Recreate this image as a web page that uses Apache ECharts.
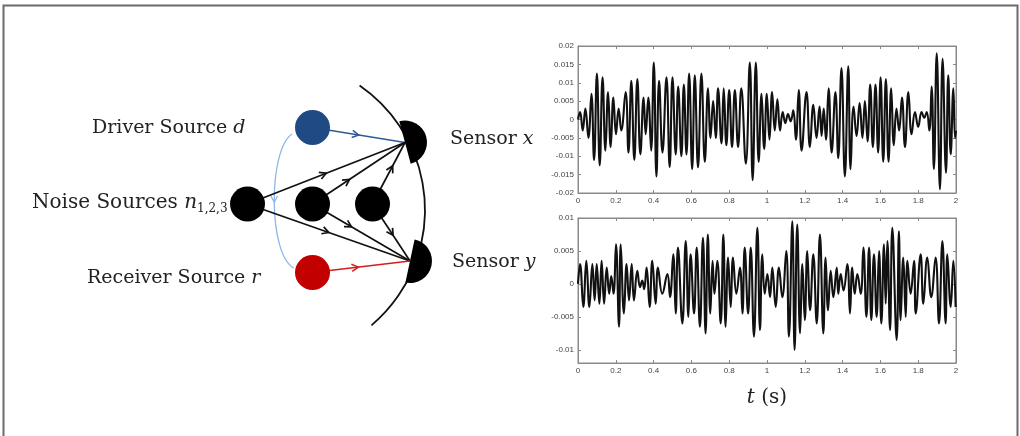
<!DOCTYPE html>
<html>
<head>
<meta charset="utf-8">
<script src="https://cdn.jsdelivr.net/npm/echarts@6/dist/echarts.min.js"></script>
<style>html,body{margin:0;padding:0;background:#fff;}#c{width:1020px;height:436px;}</style>
</head>
<body>
<div id="c"></div>
<script>
// ---- data ----
const xTicks = [0, 0.2, 0.4, 0.6, 0.8, 1, 1.2, 1.4, 1.6, 1.8, 2];
const topYTicks = [-0.02, -0.015, -0.01, -0.005, 0, 0.005, 0.01, 0.015, 0.02];
const botYTicks = [-0.01, -0.005, 0, 0.005, 0.01];

// Sensor x signal (extrema)
const topT = [0,0.011,0.025,0.039,0.055,0.071,0.085,0.100,0.115,0.130,
0.145,0.159,0.173,0.187,0.201,0.215,0.229,0.252,0.267,0.282,
0.298,0.314,0.330,0.347,0.358,0.372,0.387,0.401,0.415,0.429,
0.447,0.468,0.485,0.500,0.517,0.530,0.547,0.560,0.574,0.588,
0.604,0.618,0.635,0.653,0.671,0.688,0.701,0.715,0.729,0.741,
0.759,0.771,0.785,0.800,0.815,0.830,0.847,0.864,0.888,0.909,
0.924,0.941,0.956,0.971,0.985,0.999,1.013,1.027,1.041,1.055,
1.069,1.083,1.097,1.111,1.125,1.139,1.153,1.168,1.183,1.209,
1.227,1.245,1.262,1.278,1.289,1.300,1.312,1.326,1.342,1.362,
1.377,1.394,1.412,1.430,1.442,1.458,1.474,1.490,1.505,1.518,
1.532,1.546,1.560,1.574,1.588,1.601,1.615,1.629,1.643,1.657,
1.671,1.685,1.699,1.714,1.730,1.748,1.765,1.783,1.800,1.818,
1.832,1.845,1.859,1.871,1.883,1.898,1.915,1.929,1.947,1.959,
1.972,1.986,1.995,2.0];
const topV = [0,0.002,-0.003,0.003,-0.005,0.007,-0.011,0.0125,-0.0125,0.0115,
-0.0085,0.0075,-0.0075,0.006,-0.004,0.003,-0.003,0.0075,-0.009,0.0105,
-0.011,0.011,-0.0095,0.006,-0.004,0.006,-0.0085,0.0155,-0.0155,0.0105,
-0.009,0.0115,-0.013,0.0115,-0.0095,0.009,-0.01,0.0095,-0.0095,0.0125,
-0.0135,0.012,-0.013,0.0125,-0.0115,0.0085,-0.005,0.005,-0.005,0.0085,
-0.0065,0.0085,-0.007,0.008,-0.0075,0.008,-0.0075,0.0085,-0.012,0.0155,
-0.0165,0.0155,-0.0115,0.007,-0.008,0.007,-0.0055,0.0075,-0.003,0.0055,
-0.003,0.002,-0.001,0.0015,-0.0005,0.0025,-0.0055,0.008,-0.0085,0.0075,
-0.0075,0.004,-0.005,0.0035,-0.0045,0.003,-0.0055,0.0085,-0.009,0.0075,
-0.0105,0.014,-0.0155,0.0145,-0.0135,0.0035,-0.0045,0.0045,-0.005,0.005,
-0.006,0.0095,-0.0075,0.0095,-0.009,0.0115,-0.0115,0.011,-0.0115,0.0085,
-0.007,0.003,-0.003,0.006,-0.0075,0.0075,-0.004,0.002,-0.002,0.002,
0.0005,0.002,-0.003,0.009,-0.0135,0.018,-0.019,0.0165,-0.0145,0.012,
-0.0095,0.0085,-0.005,-0.003];

// Sensor y signal (extrema)
const botT = [0,0.011,0.028,0.044,0.060,0.076,0.088,0.099,0.113,0.125,
0.138,0.152,0.165,0.176,0.188,0.201,0.217,0.226,0.243,0.257,
0.270,0.284,0.296,0.314,0.328,0.340,0.350,0.363,0.379,0.393,
0.411,0.423,0.446,0.473,0.487,0.504,0.517,0.529,0.552,0.570,
0.584,0.596,0.614,0.628,0.645,0.661,0.675,0.687,0.700,0.712,
0.722,0.737,0.755,0.769,0.781,0.794,0.808,0.820,0.838,0.857,
0.870,0.882,0.900,0.914,0.931,0.949,0.963,0.975,0.988,1.002,
1.016,1.028,1.046,1.063,1.081,1.102,1.116,1.134,1.146,1.160,
1.175,1.187,1.200,1.213,1.228,1.245,1.263,1.280,1.298,1.310,
1.323,1.337,1.351,1.369,1.377,1.390,1.405,1.425,1.439,1.451,
1.464,1.478,1.496,1.510,1.526,1.540,1.552,1.566,1.580,1.593,
1.605,1.619,1.628,1.637,1.651,1.663,1.686,1.698,1.707,1.721,
1.734,1.743,1.760,1.778,1.787,1.813,1.827,1.848,1.869,1.892,
1.910,1.928,1.945,1.954,1.972,1.986,1.998];
const botV = [0,0.003,-0.0035,0.0035,-0.0035,0.003,-0.0025,0.003,-0.003,0.0035,
-0.003,0.0025,-0.0015,0.0012,-0.0015,0.006,-0.0065,0.006,-0.0045,0.003,
-0.0025,0.003,-0.0025,0.002,-0.0005,0.0005,-0.0008,0.0025,-0.0035,0.0035,
-0.003,0.0025,-0.0015,0.0015,-0.002,0.0045,-0.0045,0.0055,-0.006,0.0065,
-0.005,0.0045,-0.0045,0.0055,-0.0065,0.007,-0.0075,0.0075,-0.0045,0.0035,
-0.0015,0.0035,-0.006,0.0075,-0.0065,0.004,-0.0035,0.004,-0.0015,0.0025,
-0.0045,0.0055,-0.0045,0.0055,-0.008,0.0085,-0.007,0.0045,-0.0015,0.0015,
-0.002,0.0025,-0.0035,0.0025,-0.002,0.005,-0.008,0.0095,-0.01,0.009,
-0.0075,0.003,-0.0055,0.005,-0.004,0.0045,-0.006,0.0075,-0.0075,0.004,
-0.004,0.002,-0.002,0.0025,-0.0015,0.0015,-0.001,0.003,-0.0045,0.0025,
-0.0015,0.0015,-0.0015,0.0055,-0.005,0.0055,-0.0055,0.0045,-0.005,0.005,
-0.006,0.006,-0.003,0.0065,-0.007,0.0085,-0.0085,0.008,-0.0055,0.004,
-0.005,0.0035,-0.0015,0.0035,-0.0045,0.0045,-0.003,0.004,-0.002,0.004,
-0.006,0.0065,-0.006,0.0045,-0.0035,0.0035,-0.0035];

// Diagram labels
const lblDriver = 'Driver Source ';
const lblNoise = 'Noise Sources ';
const lblNoiseSub = '1,2,3';
const lblRecv = 'Receiver Source ';
const lblSensorX = 'Sensor ';
const lblSensorY = 'Sensor ';
const xName = 't';
const xUnit = ' (s)';

// ---- diagram layout (diagram units on a hidden full-size grid) ----
const NODE_R = 17.5;
const nodes = {
  d:  [312.5, 127.5],
  n1: [247.5, 204],
  n2: [312.5, 204],
  n3: [372.5, 204],
  r:  [312.5, 272.5]
};
const sensors = { x: [405, 142.5], y: [410, 261] };
const sensorFacing = { x: -15, y: 12 };   // degrees, outward direction of each half-disc
const ARC = { c: [274, 210], r: 151 };
const edges = [
  { from: 'd',  to: 'x', f: 0.50, color: '#2d5b97', w: 1.5 },
  { from: 'n1', to: 'x', f: 0.50, color: '#111', w: 1.7 },
  { from: 'n1', to: 'y', f: 0.50, color: '#111', w: 1.7 },
  { from: 'n2', to: 'x', f: 0.40, color: '#111', w: 1.7 },
  { from: 'n2', to: 'y', f: 0.40, color: '#111', w: 1.7 },
  { from: 'n3', to: 'x', f: 0.62, color: '#111', w: 1.7 },
  { from: 'n3', to: 'y', f: 0.55, color: '#111', w: 1.7 },
  { from: 'r',  to: 'y', f: 0.47, color: '#d41e1e', w: 1.5 }
];

function chevron(p, ux, uy, L, color, w) {
  const a = 0.5, c = Math.cos(a), s = Math.sin(a);
  const b1 = [p[0] - L * (ux * c - uy * s), p[1] - L * (uy * c + ux * s)];
  const b2 = [p[0] - L * (ux * c + uy * s), p[1] - L * (uy * c - ux * s)];
  return { type: 'polyline', shape: { points: [b1, p, b2] }, style: { stroke: color, lineWidth: w, fill: null } };
}

function renderDiagram(params, api) {
  const P = (p) => api.coord(p);
  const kids = [];
  const c = P(ARC.c);
  const e = P([ARC.c[0] + ARC.r, ARC.c[1]]);
  const rr = e[0] - c[0];
  const top = P([360, 85]), bot = P([372, 326]);
  const a0 = Math.atan2(top[1] - c[1], top[0] - c[0]);
  const a1 = Math.atan2(bot[1] - c[1], bot[0] - c[0]);
  kids.push({ type: 'arc', shape: { cx: c[0], cy: c[1], r: rr, startAngle: a0, endAngle: a1, clockwise: true },
    style: { stroke: '#111', lineWidth: 1.8, fill: null } });

  // curved link driver -> receiver
  const q0 = P([292, 134]), q1 = P([268, 150]), q2 = P([268, 255]), q3 = P([294, 268]);
  kids.push({ type: 'bezierCurve', shape: { x1: q0[0], y1: q0[1], cpx1: q1[0], cpy1: q1[1], cpx2: q2[0], cpy2: q2[1], x2: q3[0], y2: q3[1] },
    style: { stroke: '#8db8e6', lineWidth: 1.3, fill: null } });
  const mid = [(q0[0] + 3 * q1[0] + 3 * q2[0] + q3[0]) / 8, (q0[1] + 3 * q1[1] + 3 * q2[1] + q3[1]) / 8];
  kids.push(chevron(mid, 0, 1, 7, '#8db8e6', 1.3));

  edges.forEach(function (ed) {
    const a = P(nodes[ed.from]), b = P(sensors[ed.to]);
    kids.push({ type: 'line', shape: { x1: a[0], y1: a[1], x2: b[0], y2: b[1] }, style: { stroke: ed.color, lineWidth: ed.w } });
    const dx = b[0] - a[0], dy = b[1] - a[1], L = Math.hypot(dx, dy);
    const m = [a[0] + dx * ed.f, a[1] + dy * ed.f];
    kids.push(chevron(m, dx / L, dy / L, 7.5, ed.color, ed.w));
  });

  // sensors: half discs facing outward
  Object.keys(sensors).forEach(function (k) {
    const s = P(sensors[k]);
    const th = sensorFacing[k] * Math.PI / 180;
    kids.push({ type: 'sector', shape: { cx: s[0], cy: s[1], r0: 0, r: 22, startAngle: th - Math.PI / 2, endAngle: th + Math.PI / 2, clockwise: true },
      style: { fill: '#000' } });
  });

  const nodeColor = { d: '#1f4a84', n1: '#000', n2: '#000', n3: '#000', r: '#c30000' };
  const rEdge = P([nodes.d[0] + NODE_R, nodes.d[1]])[0] - P(nodes.d)[0];
  Object.keys(nodes).forEach(function (k) {
    const p = P(nodes[k]);
    kids.push({ type: 'circle', shape: { cx: p[0], cy: p[1], r: rEdge }, style: { fill: nodeColor[k] } });
  });
  return { type: 'group', children: kids };
}

const serif = 'DejaVu Serif';
const tickLbl = { fontSize: 8, color: '#444', fontFamily: 'Liberation Sans' };
const axLine = { show: true, onZero: false, lineStyle: { color: '#8a8a8a', width: 1 } };
const tickIn = { show: true, inside: true, length: 3, lineStyle: { color: '#888' } };

const topData = topT.map((t, i) => [t, topV[i]]);
const botData = botT.map((t, i) => [t, botV[i]]);

function rich(size) {
  return { a: { fontFamily: serif, fontSize: size, fill: '#222' }, b: { fontFamily: serif, fontStyle: 'italic', fontSize: size, fill: '#222' } };
}

const chart = echarts.init(document.getElementById('c'), null, { renderer: 'canvas' });
chart.setOption({
  animation: false,
  backgroundColor: '#fff',
  grid: [
    { left: 578, top: 46, width: 378, height: 147, show: true, borderColor: '#8a8a8a', borderWidth: 1, backgroundColor: 'transparent' },
    { left: 578, top: 218, width: 378, height: 145, show: true, borderColor: '#8a8a8a', borderWidth: 1, backgroundColor: 'transparent' },
    { left: 0, top: 0, width: 1020, height: 436, show: false }
  ],
  xAxis: [
    { gridIndex: 0, type: 'value', min: 0, max: 2, interval: 0.2, axisLine: axLine, axisTick: tickIn, splitLine: { show: false },
      axisLabel: Object.assign({ margin: 4, showMinLabel: true, showMaxLabel: true }, tickLbl) },
    { gridIndex: 0, type: 'value', position: 'top', min: 0, max: 2, interval: 0.2, axisLine: axLine, axisTick: tickIn, splitLine: { show: false }, axisLabel: { show: false } },
    { gridIndex: 1, type: 'value', min: 0, max: 2, interval: 0.2, axisLine: axLine, axisTick: tickIn, splitLine: { show: false },
      axisLabel: Object.assign({ margin: 4, showMinLabel: true, showMaxLabel: true }, tickLbl) },
    { gridIndex: 1, type: 'value', position: 'top', min: 0, max: 2, interval: 0.2, axisLine: axLine, axisTick: tickIn, splitLine: { show: false }, axisLabel: { show: false } },
    { gridIndex: 2, type: 'value', min: 0, max: 1020, show: false }
  ],
  yAxis: [
    { gridIndex: 0, type: 'value', min: -0.02, max: 0.02, interval: 0.005, axisLine: axLine, axisTick: tickIn, splitLine: { show: false },
      axisLabel: Object.assign({ margin: 4, showMinLabel: true, showMaxLabel: true }, tickLbl) },
    { gridIndex: 0, type: 'value', position: 'right', min: -0.02, max: 0.02, interval: 0.005, axisLine: axLine, axisTick: tickIn, splitLine: { show: false }, axisLabel: { show: false } },
    { gridIndex: 1, type: 'value', min: -0.012, max: 0.01, axisLine: axLine, splitLine: { show: false },
      axisTick: Object.assign({ customValues: botYTicks }, tickIn),
      axisLabel: Object.assign({ margin: 4, customValues: botYTicks }, tickLbl) },
    { gridIndex: 1, type: 'value', position: 'right', min: -0.012, max: 0.01, axisLine: axLine, splitLine: { show: false },
      axisTick: Object.assign({ customValues: botYTicks }, tickIn), axisLabel: { show: false } },
    { gridIndex: 2, type: 'value', min: 0, max: 436, inverse: true, show: false }
  ],
  series: [
    { type: 'line', xAxisIndex: 0, yAxisIndex: 0, data: topData, smooth: 0.45, showSymbol: false, silent: true,
      lineStyle: { color: '#111', width: 2.1 } },
    { type: 'line', xAxisIndex: 2, yAxisIndex: 2, data: botData, smooth: 0.45, showSymbol: false, silent: true,
      lineStyle: { color: '#111', width: 2.1 } },
    { type: 'custom', xAxisIndex: 4, yAxisIndex: 4, data: [[0, 0]], renderItem: renderDiagram, silent: true, clip: false, z: 5 }
  ],
  graphic: [
    { type: 'rect', silent: true, shape: { x: 3.5, y: 5.5, width: 1014, height: 440 }, style: { fill: null, stroke: '#6b6b6b', lineWidth: 2 } },
    { type: 'text', x: 92, y: 128, silent: true,
      style: { text: '{a|' + lblDriver + '}{b|d}', align: 'left', verticalAlign: 'middle', rich: rich(19) } },
    { type: 'text', x: 32, y: 203, silent: true,
      style: { text: '{a|' + lblNoise + '}{b|n}', align: 'left', verticalAlign: 'middle', rich: rich(20) } },
    { type: 'text', x: 197, y: 209, silent: true,
      style: { text: lblNoiseSub, align: 'left', verticalAlign: 'middle', fontFamily: serif, fontSize: 12, fill: '#222' } },
    { type: 'text', x: 87, y: 278, silent: true,
      style: { text: '{a|' + lblRecv + '}{b|r}', align: 'left', verticalAlign: 'middle', rich: rich(19) } },
    { type: 'text', x: 450, y: 139, silent: true,
      style: { text: '{a|' + lblSensorX + '}{b|x}', align: 'left', verticalAlign: 'middle', rich: rich(19) } },
    { type: 'text', x: 452, y: 262, silent: true,
      style: { text: '{a|' + lblSensorY + '}{b|y}', align: 'left', verticalAlign: 'middle', rich: rich(19) } },
    { type: 'text', x: 767, y: 398, silent: true,
      style: { text: '{b|' + xName + '}{a|' + xUnit + '}', align: 'center', verticalAlign: 'middle', rich: rich(20) } }
  ]
});
</script>
</body>
</html>
